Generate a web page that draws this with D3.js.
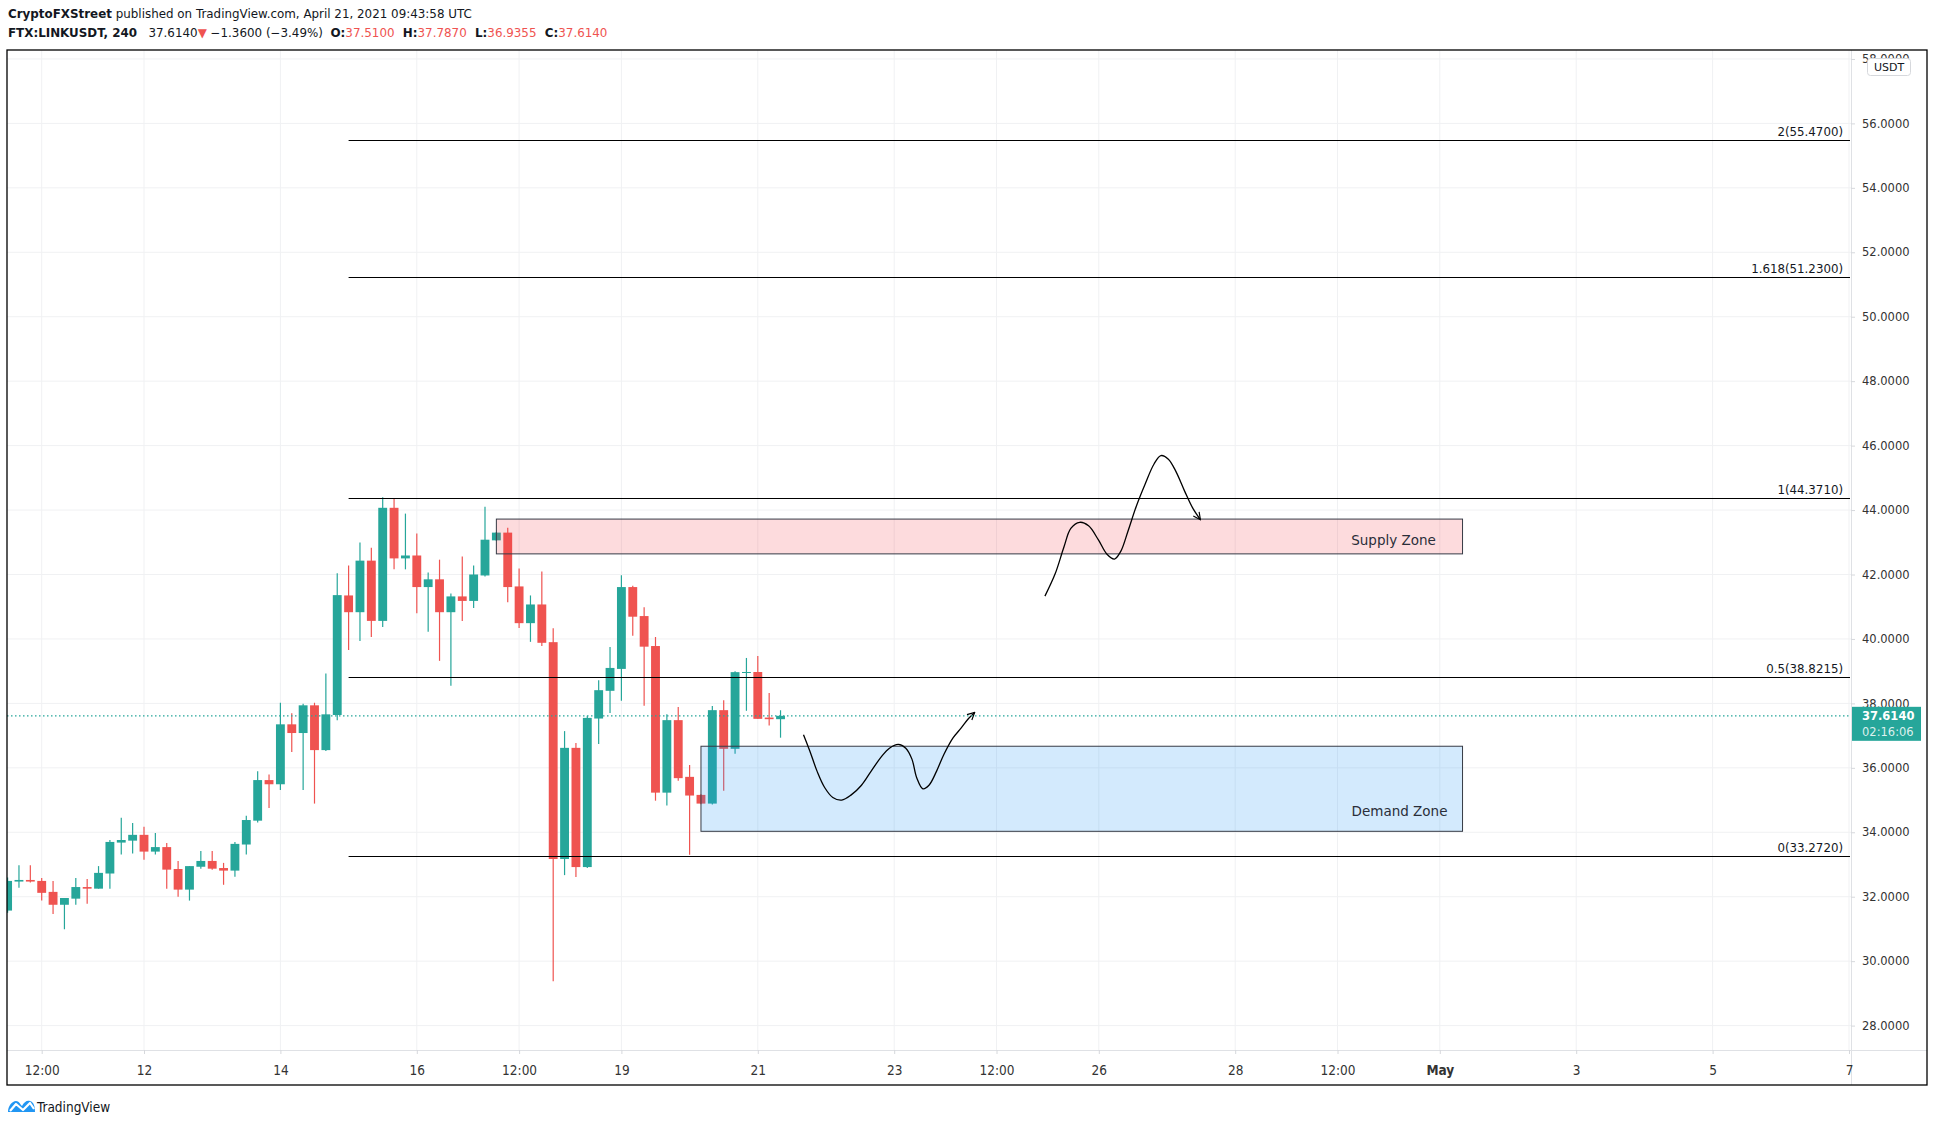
<!DOCTYPE html>
<html lang="en">
<head>
<meta charset="utf-8">
<title>FTX:LINKUSDT 240</title>
<script src="https://cdnjs.cloudflare.com/ajax/libs/d3/7.8.5/d3.min.js"></script>
<style>
  body { margin: 0; background: #fff; }
  svg text { font-family: "DejaVu Sans", Verdana, sans-serif; fill: #131722; }
  .hdr { font-size: 11.9px; white-space: pre; }
  .paxis text { font-size: 11.5px; fill: #333; }
  .taxis text { font-family: "Liberation Sans Narrow", "DejaVu Sans Condensed", sans-serif; font-stretch: condensed; font-size: 13.5px; fill: #333; }
  .paxis line, .taxis line { stroke: #d6d8dc; }
  .paxis path, .taxis path { display: none; }
  .fib-label { font-size: 11.8px; }
  .zone-label { font-size: 13.5px; fill: #2a2e39; }
</style>
</head>
<body>
<svg id="chart" width="1935" height="1127"></svg>
<script>
// 4h candles, FTX:LINKUSDT
var times = [
  "04-10 00","04-10 04","04-10 08","04-10 12","04-10 16","04-10 20",
  "04-11 00","04-11 04","04-11 08","04-11 12","04-11 16","04-11 20",
  "04-12 00","04-12 04","04-12 08","04-12 12","04-12 16","04-12 20",
  "04-13 00","04-13 04","04-13 08","04-13 12","04-13 16","04-13 20",
  "04-14 00","04-14 04","04-14 08","04-14 12","04-14 16","04-14 20",
  "04-15 00","04-15 04","04-15 08","04-15 12","04-15 16","04-15 20",
  "04-16 00","04-16 04","04-16 08","04-16 12","04-16 16","04-16 20",
  "04-17 00","04-17 04","04-17 08","04-17 12","04-17 16","04-17 20",
  "04-18 00","04-18 04","04-18 08","04-18 12","04-18 16","04-18 20",
  "04-19 00","04-19 04","04-19 08","04-19 12","04-19 16","04-19 20",
  "04-20 00","04-20 04","04-20 08","04-20 12","04-20 16","04-20 20",
  "04-21 00","04-21 04","04-21 08"];
var opens = [
  31.57,32.47,32.52,32.49,32.15,31.75, 31.94,32.30,32.25,32.72,33.68,33.74,
  33.92,33.40,33.54,32.86,32.22,32.93, 33.11,32.89,32.81,33.62,34.36,35.62,
  35.49,37.35,37.08,37.94,36.55,37.64, 41.35,40.83,42.43,40.56,44.07,42.50,
  42.59,41.61,41.85,40.83,41.32,41.18, 41.97,43.06,43.30,41.63,40.49,41.07,
  39.90,33.17,36.62,32.92,37.53,38.39, 39.07,41.61,40.71,39.78,35.23,37.48,
  35.72,35.16,34.89,37.79,36.59,38.95, 38.974,37.56,37.51];
var highs = [
  32.60,32.98,32.98,32.58,32.49,31.96, 32.58,32.55,32.95,33.76,34.45,34.29,
  34.17,33.98,33.67,33.11,32.95,33.42, 33.42,33.05,33.70,34.51,35.89,35.79,
  38.02,37.69,37.99,38.02,38.93,42.04, 42.28,42.99,42.83,44.40,44.37,43.89,
  43.27,42.06,42.46,41.41,42.56,42.28, 44.10,43.32,43.45,42.19,41.35,42.09,
  40.33,37.14,36.77,37.62,38.72,39.75, 41.98,41.65,40.98,40.06,37.66,37.89,
  36.09,35.18,37.92,38.10,39.00,39.41, 39.47,38.32,37.787];
var lows = [
  31.50,32.28,32.44,31.88,31.46,30.99, 31.75,31.78,32.25,32.25,33.31,33.34,
  33.15,33.31,32.25,32.00,31.88,32.87, 32.84,32.37,32.62,33.31,34.30,34.75,
  35.31,36.49,35.31,34.89,36.52,37.48, 39.66,39.94,40.06,40.37,42.16,42.16,
  40.80,40.22,39.32,38.55,40.56,40.96, 41.94,43.04,41.14,40.34,39.91,39.78,
  29.38,32.67,32.61,32.89,36.74,37.70, 38.08,40.10,37.93,34.98,34.83,35.60,
  33.30,34.87,34.86,35.29,36.44,37.77, 37.52,37.31,36.9355];
var closes = [
  32.49,32.52,32.47,32.12,31.75,31.96, 32.30,32.25,32.74,33.70,33.76,33.92,
  33.40,33.54,32.84,32.22,32.95,33.11, 32.87,32.81,33.64,34.38,35.62,35.49,
  37.35,37.08,37.94,36.55,37.66,41.36, 40.83,42.43,40.56,44.07,42.50,42.59,
  41.61,41.85,40.83,41.32,41.18,42.00, 43.08,43.30,41.61,40.49,41.07,39.88,
  33.17,36.62,32.92,37.55,38.41,39.10, 41.61,40.69,39.76,35.23,37.48,35.68,
  35.14,34.89,37.79,36.59,38.97,38.974, 37.52,37.51,37.614];

var priceTicks = [28,30,32,34,36,38,40,42,44,46,48,50,52,54,56,58];
var timeTicks  = ["04-10 12","04-12 00","04-14 00","04-16 00","04-17 12","04-19 00","04-21 00","04-23 00",
                  "04-24 12","04-26 00","04-28 00","04-29 12","05-01 00","05-03 00","05-05 00","05-07 00"];
var timeLabels = ["12:00","12","14","16","12:00","19","21","23","12:00","26","28","12:00","May","3","5","7"];

// fibonacci extension
var fibRatios = ["0","0.5","1","1.618","2"];
var fibPrices = [33.272,38.8215,44.371,51.23,55.47];
var fibStart  = "04-15 00";

// zones: [start, end, top, bottom]
var supplyZone = ["04-17 04","05-01 08",43.72,42.64];
var demandZone = ["04-20 04","05-01 08",36.67,34.03];

// hand drawn paths: [days after Apr 12, price]
var supplyPath = [[13.21,41.33],[13.36,42.02],[13.49,42.86],[13.59,43.43],[13.72,43.62],[13.85,43.51],
  [13.99,43.09],[14.12,42.63],[14.23,42.48],[14.32,42.71],[14.43,43.36],[14.55,44.12],[14.68,44.81],
  [14.81,45.43],[14.91,45.69],[15.02,45.58],[15.13,45.20],[15.26,44.58],[15.38,44.05],[15.49,43.70]];
var demandPath = [[9.67,37.03],[9.76,36.54],[9.87,35.89],[9.98,35.39],[10.10,35.08],[10.23,35.00],
  [10.37,35.16],[10.52,35.46],[10.66,35.89],[10.81,36.34],[10.93,36.61],[11.06,36.73],[11.17,36.61],
  [11.26,36.27],[11.33,35.69],[11.42,35.35],[11.51,35.46],[11.62,35.89],[11.73,36.42],[11.86,36.92],
  [11.98,37.23],[12.09,37.53],[12.18,37.72]];

var symbol = "FTX:LINKUSDT, 240", change = "\u22121.3600 (\u22123.49%)", countdown = "02:16:06";

var parse = d3.utcParse("%Y-%m-%d %H");
var t = s => parse("2021-" + s);
var DAY = 864e5, base = t("04-12 00");

var up = "#26a69a", down = "#ef5350";

var svg = d3.select("#chart");
var plot = {left: 7, right: 1851, top: 50, bottom: 1050};
var frame = {left: 7, right: 1927, top: 50, bottom: 1085};

var x = d3.scaleUtc().domain([t("04-10 00"), t("05-07 00")]).range([7.6, 1849]);
var y = d3.scaleLinear().domain([28, 56]).range([1025.6, 123.4]);

var candles = times.map((s, i) => ({time: t(s), o: opens[i], h: highs[i], l: lows[i], c: closes[i]}));
var step = x(t("04-10 04")) - x(t("04-10 00"));
var bw = step * 0.78;

svg.append("rect").attr("width", 1935).attr("height", 1127).attr("fill", "#fff");

svg.append("defs").append("clipPath").attr("id", "clip")
  .append("rect").attr("x", plot.left).attr("y", plot.top)
  .attr("width", plot.right - plot.left).attr("height", plot.bottom - plot.top);

svg.select("defs").append("marker")
  .attr("id", "arrow").attr("viewBox", "0 0 10 10").attr("refX", 9).attr("refY", 5)
  .attr("markerWidth", 9).attr("markerHeight", 9).attr("markerUnits", "userSpaceOnUse")
  .attr("orient", "auto")
  .append("path").attr("d", "M1,1L9,5L1,9").attr("fill", "none").attr("stroke", "#000").attr("stroke-width", 1.3);

var g = svg.append("g").attr("clip-path", "url(#clip)");

// grid
g.selectAll(".hgrid").data(priceTicks).enter().append("line")
  .attr("x1", plot.left).attr("x2", plot.right)
  .attr("y1", d => y(d)).attr("y2", d => y(d))
  .attr("stroke", "#f0f1f3");
g.selectAll(".vgrid").data(timeTicks).enter().append("line")
  .attr("y1", plot.top).attr("y2", plot.bottom)
  .attr("x1", d => x(t(d))).attr("x2", d => x(t(d)))
  .attr("stroke", "#f0f1f3");

// candles
var cg = g.selectAll(".candle").data(candles).enter().append("g");
cg.append("line")
  .attr("x1", d => x(d.time)).attr("x2", d => x(d.time))
  .attr("y1", d => y(d.h)).attr("y2", d => y(d.l))
  .attr("stroke", d => d.c >= d.o ? up : down).attr("stroke-width", 1.2);
cg.append("rect")
  .attr("x", d => x(d.time) - bw / 2).attr("width", bw)
  .attr("y", d => y(Math.max(d.o, d.c)))
  .attr("height", d => Math.max(1, Math.abs(y(d.o) - y(d.c))))
  .attr("fill", d => d.c >= d.o ? up : down);

// zones
function zone(z, fill) {
  g.append("rect")
    .attr("x", x(t(z[0]))).attr("width", x(t(z[1])) - x(t(z[0])))
    .attr("y", y(z[2])).attr("height", y(z[3]) - y(z[2]))
    .attr("fill", fill).attr("stroke", "#363a45").attr("stroke-width", 1);
}
zone(supplyZone, "rgba(242,54,69,0.18)");
zone(demandZone, "rgba(33,150,243,0.2)");

g.append("text").attr("class", "zone-label")
  .attr("x", x(t(supplyZone[1])) - 69).attr("y", (y(supplyZone[2]) + y(supplyZone[3])) / 2 + 3)
  .attr("dy", "0.38em").attr("text-anchor", "middle").text("Supply Zone");
g.append("text").attr("class", "zone-label")
  .attr("x", x(t(demandZone[1])) - 63).attr("y", y(demandZone[3]) - 20)
  .attr("dy", "0.38em").attr("text-anchor", "middle").text("Demand Zone");

// fib lines
fibPrices.forEach(function(p, i) {
  g.append("line")
    .attr("x1", x(t(fibStart))).attr("x2", plot.right - 1)
    .attr("y1", Math.round(y(p)) + 0.5).attr("y2", Math.round(y(p)) + 0.5)
    .attr("stroke", "#000").attr("stroke-width", 1.2);
  g.append("text").attr("class", "fib-label")
    .attr("x", plot.right - 8).attr("y", y(p) - 4)
    .attr("text-anchor", "end")
    .text(fibRatios[i] + "(" + p.toFixed(4) + ")");
});

// drawn projections
var line = d3.line().x(d => x(new Date(+base + d[0] * DAY))).y(d => y(d[1])).curve(d3.curveCatmullRom);
[supplyPath, demandPath].forEach(function(p) {
  g.append("path").attr("d", line(p)).attr("fill", "none")
    .attr("stroke", "#000").attr("stroke-width", 1.3).attr("marker-end", "url(#arrow)");
});

// last price line
var last = candles[candles.length - 1];
g.append("line")
  .attr("x1", plot.left).attr("x2", plot.right)
  .attr("y1", y(last.c)).attr("y2", y(last.c))
  .attr("stroke", up).attr("stroke-width", 1.2).attr("stroke-dasharray", "1.5,2.5");

// price axis
svg.append("line").attr("x1", plot.right + 0.5).attr("x2", plot.right + 0.5)
  .attr("y1", frame.top).attr("y2", frame.bottom).attr("stroke", "#dfe1e5");
svg.append("g").attr("class", "paxis")
  .attr("transform", "translate(" + plot.right + ",0)")
  .call(d3.axisRight(y).tickValues(priceTicks).tickSize(4).tickPadding(7).tickFormat(d => d.toFixed(4)));

// USDT badge
svg.append("rect").attr("x", 1867.5).attr("y", 58.5).attr("width", 43).attr("height", 17).attr("rx", 3)
  .attr("fill", "#fff").attr("stroke", "#d6d8dc");
svg.append("text").attr("x", 1889).attr("y", 67).attr("dy", "0.36em").attr("text-anchor", "middle")
  .attr("font-size", 11).attr("fill", "#333").text("USDT");

// last price box
svg.append("rect").attr("x", plot.right + 1).attr("y", y(last.c) - 9).attr("width", 69).attr("height", 34).attr("fill", up);
svg.append("text").attr("x", 1862).attr("y", y(last.c)).attr("dy", "0.36em")
  .attr("font-size", 11.5).attr("font-weight", "bold").style("fill", "#fff").text(last.c.toFixed(4));
svg.append("text").attr("x", 1862).attr("y", y(last.c) + 16).attr("dy", "0.36em")
  .attr("font-size", 11.5).style("fill", "rgba(255,255,255,0.85)").text(countdown);

// time axis
svg.append("line").attr("x1", frame.left).attr("x2", frame.right)
  .attr("y1", plot.bottom + 0.5).attr("y2", plot.bottom + 0.5).attr("stroke", "#dfe1e5");
var ta = svg.append("g").attr("class", "taxis")
  .attr("transform", "translate(0," + plot.bottom + ")")
  .call(d3.axisBottom(x).tickValues(timeTicks.map(t)).tickSize(4).tickPadding(11)
    .tickFormat((d, i) => timeLabels[i]));
ta.selectAll("text").filter((d, i) => timeLabels[i] == "May").attr("font-weight", "bold");

// frame
svg.append("rect").attr("x", frame.left).attr("y", frame.top)
  .attr("width", frame.right - frame.left).attr("height", frame.bottom - frame.top)
  .attr("fill", "none").attr("stroke", "#000").attr("stroke-width", 1.3);

// header
var h1 = svg.append("text").attr("class", "hdr").attr("x", 8).attr("y", 18);
h1.append("tspan").attr("font-weight", "bold").text("CryptoFXStreet");
h1.append("tspan").text(" published on TradingView.com, April 21, 2021 09:43:58 UTC");

var h2 = svg.append("text").attr("class", "hdr").attr("x", 8).attr("y", 37);
h2.append("tspan").attr("font-weight", "bold").text(symbol);
h2.append("tspan").text("   " + last.c.toFixed(4));
h2.append("tspan").style("fill", down).text("\u25BC");
h2.append("tspan").text(" " + change + "  ");
[["O:", last.o], ["H:", last.h], ["L:", last.l], ["C:", last.c]].forEach(function(v, i) {
  h2.append("tspan").attr("font-weight", "bold").text((i ? "  " : "") + v[0]);
  h2.append("tspan").style("fill", down).text(v[1].toFixed(4));
});

// footer logo
var lg = svg.append("g").attr("transform", "translate(6,1098)");
lg.append("path").attr("d", "M2,14 C2,8 6,3 10,3 C13,3 14,6 16,8 C18,4 21,2 24,3 C28,4 29,9 29,14 Z")
  .attr("fill", "#2196f3");
lg.append("polyline").attr("points", "4,13 10,6 17,12 24,5 28,11")
  .attr("fill", "none").attr("stroke", "#fff").attr("stroke-width", 2.2).attr("stroke-linejoin", "round");
svg.append("text").attr("x", 37).attr("y", 1107).attr("dy", "0.36em")
  .style("font-family", "'Liberation Sans Narrow', 'DejaVu Sans Condensed', sans-serif")
  .attr("font-size", 13.5).text("TradingView");
</script>
</body>
</html>
